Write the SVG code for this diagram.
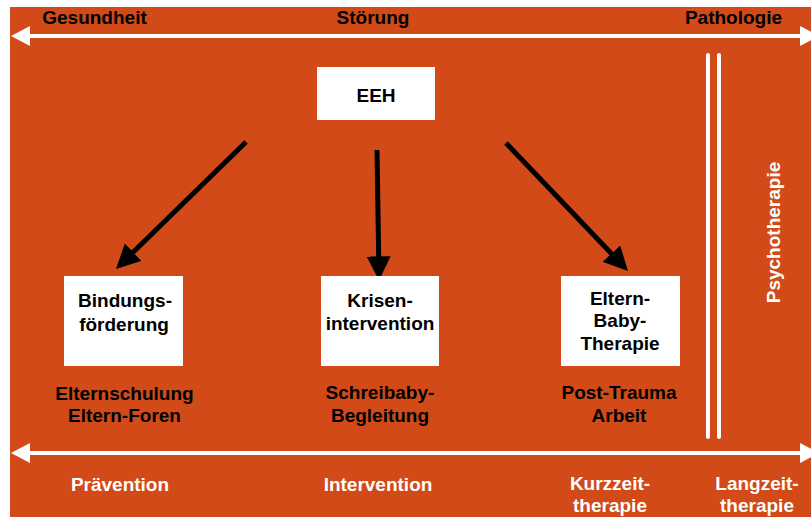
<svg xmlns="http://www.w3.org/2000/svg" width="811" height="517" viewBox="0 0 811 517">
<defs>
<style>
text{font-family:"Liberation Sans",Arial,sans-serif;font-weight:bold;font-size:19px;text-anchor:middle}
.k{fill:#000}
.w{fill:#fff}
.box{fill:#fff}
.ax{stroke:#fff;stroke-width:4;fill:none}
.ah{fill:#fff}
.conn{stroke:#000;stroke-width:5;fill:none}
.dl{stroke:#fff;stroke-width:4;stroke-linecap:round}
</style>
<marker id="arr" markerUnits="userSpaceOnUse" markerWidth="24" markerHeight="24" viewBox="0 0 22 22" refX="7" refY="11" orient="auto">
<path d="M0,0 L22,11 L0,22 z" fill="#000"/>
</marker>
</defs>
<rect x="0" y="0" width="811" height="517" fill="#fff"/>
<rect x="10" y="7" width="801" height="510" fill="#D14A17"/>

<g id="top-axis">
<line class="ax" x1="28" y1="36" x2="802" y2="36"/>
<polygon class="ah" points="11,36 30,26 30,46"/>
<polygon class="ah" points="819,36 800,26 800,46"/>
<text class="k" x="94.5" y="24">Gesundheit</text>
<text class="k" x="373" y="24">Störung</text>
<text class="k" x="733.5" y="24">Pathologie</text>
</g>

<g id="bottom-axis">
<line class="ax" x1="28" y1="453" x2="802" y2="453"/>
<polygon class="ah" points="11,453 30,443 30,463"/>
<polygon class="ah" points="819,453 800,443 800,463"/>
<text class="w" x="120" y="491">Prävention</text>
<text class="w" x="378" y="491">Intervention</text>
<text class="w" x="610" y="490">Kurzzeit-</text>
<text class="w" x="610" y="512">therapie</text>
<text class="w" x="757" y="490">Langzeit-</text>
<text class="w" x="757" y="512">therapie</text>
</g>

<g id="psychotherapie">
<line class="dl" x1="708" y1="55" x2="708" y2="437"/>
<line class="dl" x1="719" y1="55" x2="719" y2="437"/>
<text class="w" transform="translate(780,232.5) rotate(-90)">Psychotherapie</text>
</g>

<g id="connectors">
<line class="conn" x1="246" y1="142" x2="127.7" y2="257.5" marker-end="url(#arr)"/>
<line class="conn" x1="377" y1="150" x2="378.8" y2="264" marker-end="url(#arr)"/>
<line class="conn" x1="506" y1="143" x2="616.7" y2="259.1" marker-end="url(#arr)"/>
</g>

<g id="eeh">
<rect class="box" x="317" y="67" width="118" height="53"/>
<text class="k" x="376" y="102">EEH</text>
</g>

<g id="bindung">
<rect class="box" x="64" y="276" width="119" height="90"/>
<text class="k" x="125" y="307">Bindungs-</text>
<text class="k" x="124" y="331">förderung</text>
<text class="k" x="124.5" y="400">Elternschulung</text>
<text class="k" x="124.5" y="422">Eltern-Foren</text>
</g>

<g id="krisen">
<rect class="box" x="321" y="276" width="118" height="90"/>
<text class="k" x="380" y="307">Krisen-</text>
<text class="k" x="380" y="330">intervention</text>
<text class="k" x="380" y="399">Schreibaby-</text>
<text class="k" x="380" y="422">Begleitung</text>
</g>

<g id="elternbaby">
<rect class="box" x="561" y="276" width="119" height="90"/>
<text class="k" x="620" y="305">Eltern-</text>
<text class="k" x="620" y="327">Baby-</text>
<text class="k" x="620" y="350">Therapie</text>
<text class="k" x="619" y="399">Post-Trauma</text>
<text class="k" x="619" y="422">Arbeit</text>
</g>
</svg>
